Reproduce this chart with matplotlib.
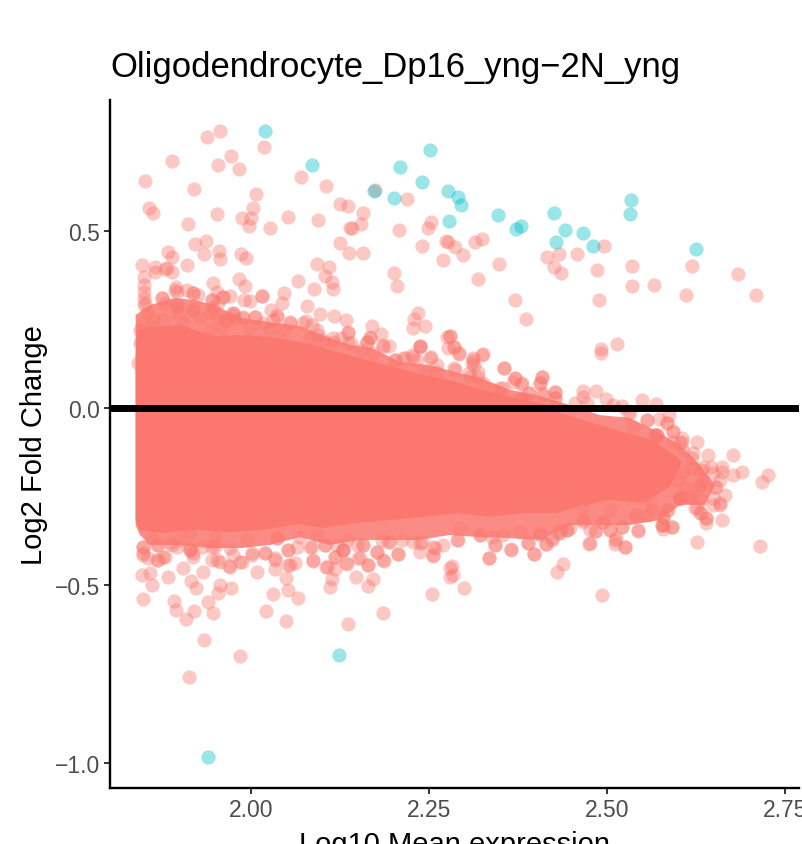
import numpy as np
import matplotlib
matplotlib.use('Agg')
import matplotlib.pyplot as plt

plt.rcParams['font.family'] = ['Liberation Sans', 'DejaVu Sans']

title = 'Oligodendrocyte_Dp16_yng\u22122N_yng'
x_ticks = [2.00, 2.25, 2.50, 2.75]
x_tick_labels = ['2.00', '2.25', '2.50', '2.75']
y_ticks = [-1.0, -0.5, 0.0, 0.5]
y_tick_labels = ['\u22121.0', '\u22120.5', '0.0', '0.5']

# the cloud is solid colour in the picture, single genes can't be read there,
# so it is an outline, points only where they can be seen
cloud_up_x = [1.838, 1.840, 1.854, 1.900, 1.947, 1.994, 2.041, 2.087, 2.121, 2.191, 2.237, 2.284,
              2.331, 2.378, 2.420, 2.434, 2.480, 2.528, 2.565, 2.598, 2.605]
cloud_up_y = [0.150, 0.220, 0.228, 0.234, 0.203, 0.206, 0.197, 0.178, 0.158, 0.121, 0.096, 0.076,
              0.048, 0.025, 0.008, -0.014, -0.042, -0.070, -0.090, -0.138, -0.152]
cloud_low_x = [2.603, 2.588, 2.574, 2.551, 2.504, 2.458, 2.430, 2.382, 2.336, 2.289, 2.242, 2.195,
               2.149, 2.101, 2.065, 2.017, 1.971, 1.924, 1.876, 1.844, 1.838]
cloud_low_y = [-0.166, -0.223, -0.240, -0.268, -0.259, -0.279, -0.296, -0.296, -0.307, -0.296, -0.307, -0.316,
               -0.324, -0.338, -0.327, -0.344, -0.350, -0.344, -0.352, -0.344, -0.316]

# thinner band around the solid part, where the circles still overlap a lot
band_up_x = [1.838, 1.858, 1.893, 1.921, 1.949, 1.985, 2.027, 2.069, 2.111, 2.139, 2.170, 2.209,
             2.251, 2.287, 2.322, 2.364, 2.406, 2.448, 2.490, 2.532, 2.567, 2.603, 2.631, 2.652]
band_up_y = [0.262, 0.290, 0.310, 0.304, 0.290, 0.254, 0.242, 0.231, 0.197, 0.178, 0.169, 0.130,
             0.121, 0.101, 0.085, 0.051, 0.034, 0.008, -0.020, -0.028, -0.062, -0.104, -0.161, -0.217]
band_low_x = [2.638, 2.603, 2.574, 2.532, 2.490, 2.448, 2.406, 2.364, 2.322, 2.279, 2.237, 2.195,
              2.153, 2.111, 2.069, 2.027, 1.985, 1.942, 1.900, 1.858, 1.844, 1.838]
band_low_y = [-0.273, -0.273, -0.316, -0.330, -0.330, -0.330, -0.372, -0.367, -0.364, -0.358, -0.372, -0.372,
              -0.372, -0.386, -0.364, -0.386, -0.395, -0.395, -0.386, -0.386, -0.358, -0.330]

# not significant, above the cloud
top_x = [1.956, 1.938, 2.018, 1.889, 1.972, 1.954, 1.983, 1.851, 2.070, 2.105, 1.920, 2.174,
         2.125, 2.136, 2.219, 2.007, 2.003, 1.857, 1.862, 1.952, 1.987, 2.000, 1.997, 2.052,
         2.094, 2.157, 2.154, 2.142, 2.139, 2.027, 1.912, 2.253, 2.249, 2.208, 2.274, 2.240,
         2.270, 2.125, 2.138, 2.157, 1.937, 1.921, 1.934, 1.955, 1.956, 1.986, 1.993, 1.883,
         1.889, 1.910, 1.847, 1.865, 1.865, 1.879, 1.882, 1.889, 2.093, 2.110, 2.104, 2.114,
         2.115, 2.066, 2.088, 2.201, 2.205, 1.983, 1.992, 1.947, 2.046, 2.044, 2.015, 2.015,
         1.990, 1.999, 1.971, 2.079, 2.028, 2.097, 2.117, 2.133, 2.235, 2.229, 2.228, 2.244,
         2.170, 2.183, 2.194, 2.237, 2.237, 2.136,
         2.324, 2.315, 2.287, 2.298, 2.277, 2.348, 2.319, 2.371, 2.386, 2.416, 2.433, 2.426,
         2.435, 2.458, 2.496, 2.486, 2.489, 2.535, 2.535, 2.566, 2.619, 2.611, 2.684, 2.709,
         2.514, 2.492, 2.492, 2.355, 2.324, 2.292, 2.312, 2.310, 2.279, 2.285, 2.371, 2.409,
         2.406, 2.379, 2.390, 2.427, 2.466, 2.485, 2.499, 2.549, 2.569, 2.522]
top_y = [0.781, 0.764, 0.736, 0.696, 0.710, 0.685, 0.674, 0.640, 0.651, 0.626, 0.617, 0.615,
         0.575, 0.570, 0.589, 0.603, 0.564, 0.564, 0.550, 0.547, 0.536, 0.536, 0.513, 0.539,
         0.530, 0.550, 0.519, 0.507, 0.507, 0.507, 0.519, 0.524, 0.507, 0.502, 0.471, 0.457,
         0.417, 0.465, 0.437, 0.437, 0.471, 0.462, 0.434, 0.443, 0.420, 0.434, 0.423, 0.440,
         0.426, 0.403, 0.403, 0.398, 0.383, 0.392, 0.395, 0.383, 0.406, 0.398, 0.372, 0.355,
         0.335, 0.358, 0.335, 0.381, 0.344, 0.364, 0.344, 0.352, 0.324, 0.296, 0.316, 0.316,
         0.304, 0.302, 0.316, 0.288, 0.276, 0.265, 0.259, 0.248, 0.268, 0.251, 0.226, 0.231,
         0.231, 0.209, 0.175, 0.175, 0.172, 0.211,
         0.476, 0.468, 0.454, 0.431, 0.468, 0.406, 0.364, 0.304, 0.251, 0.426, 0.434, 0.398,
         0.381, 0.434, 0.457, 0.389, 0.304, 0.400, 0.344, 0.347, 0.400, 0.319, 0.378, 0.319,
         0.180, 0.166, 0.155, 0.113, 0.149, 0.152, 0.141, 0.127, 0.203, 0.172, 0.085, 0.087,
         0.070, 0.068, 0.042, 0.045, 0.048, 0.048, 0.025, 0.023, 0.011, 0.006]

# upper edge of the cloud
edge_up_x = [1.850, 1.850, 1.850, 1.850, 1.850, 1.895, 1.896, 1.910, 1.919, 1.945, 1.952, 1.961,
             1.875, 1.896, 1.919, 1.947, 1.975, 1.975, 1.963, 1.989, 2.006, 2.037, 2.055, 2.077,
             2.093, 2.115, 2.136, 2.163, 2.167, 2.185, 2.202, 2.216, 2.228, 2.251, 2.275, 2.277,
             2.287, 2.308, 2.319, 2.350, 2.378, 2.410, 2.427, 2.455, 2.466, 2.472, 2.508,
             1.851, 1.854, 1.848, 1.862, 1.875, 1.879, 1.896, 1.893, 1.919, 1.926, 1.897, 1.919,
             1.928, 1.945, 1.954, 1.961, 1.942, 1.952, 1.975, 1.978, 1.966, 1.989, 2.006, 2.017,
             2.031, 2.037, 2.055, 2.073, 2.086, 2.094, 2.101, 2.083, 2.045, 2.027, 1.999, 1.961,
             1.942, 1.904, 1.876, 1.862, 1.844, 1.844, 1.841,
             2.136, 2.115, 2.126, 2.140, 2.154, 2.163, 2.167, 2.185, 2.171, 2.202, 2.213, 2.226,
             2.233, 2.237, 2.253, 2.262, 2.279, 2.285, 2.292, 2.285, 2.244, 2.262, 2.312, 2.326,
             2.313, 2.319, 2.306, 2.326, 2.355, 2.371, 2.381, 2.368, 2.354, 2.390, 2.381, 2.409,
             2.406, 2.409, 2.427, 2.427, 2.340]
edge_up_y = [0.369, 0.347, 0.327, 0.310, 0.290, 0.341, 0.327, 0.333, 0.324, 0.304, 0.327, 0.313,
             0.310, 0.285, 0.276, 0.285, 0.268, 0.262, 0.248, 0.254, 0.257, 0.257, 0.242, 0.245,
             0.220, 0.186, 0.183, 0.186, 0.200, 0.172, 0.135, 0.141, 0.144, 0.141, 0.200, 0.169,
             0.107, 0.087, 0.087, 0.056, 0.023, 0.037, 0.028, 0.014, 0.031, 0.014, 0.008,
             0.296, 0.268, 0.240, 0.254, 0.310, 0.296, 0.290, 0.333, 0.324, 0.319, 0.268, 0.276,
             0.257, 0.304, 0.296, 0.313, 0.268, 0.257, 0.268, 0.248, 0.248, 0.257, 0.257, 0.240,
             0.248, 0.262, 0.240, 0.240, 0.234, 0.206, 0.192, 0.197, 0.220, 0.220, 0.226, 0.226,
             0.220, 0.240, 0.248, 0.226, 0.220, 0.183, 0.127,
             0.214, 0.197, 0.197, 0.183, 0.163, 0.186, 0.197, 0.177, 0.155, 0.135, 0.141, 0.149,
             0.135, 0.175, 0.144, 0.121, 0.203, 0.172, 0.155, 0.113, 0.101, 0.101, 0.135, 0.152,
             0.121, 0.101, 0.099, 0.070, 0.113, 0.085, 0.070, 0.073, 0.056, 0.042, 0.028, 0.087,
             0.070, 0.042, 0.045, 0.028, 0.051]

# right tip of the cloud
tip_x = [2.726, 2.718, 2.690, 2.677, 2.677, 2.666, 2.659, 2.626, 2.642, 2.662, 2.593, 2.605,
         2.588, 2.573, 2.556, 2.532, 2.537, 2.567, 2.567, 2.584, 2.603, 2.621, 2.635, 2.649,
         2.654, 2.628, 2.603, 2.603, 2.617, 2.633, 2.649, 2.626, 2.633, 2.640, 2.640, 2.586,
         2.579, 2.577, 2.577, 2.558, 2.542, 2.639, 2.662, 2.591, 2.579, 2.544,
         2.619, 2.633, 2.647, 2.662, 2.659, 2.635, 2.652, 2.659, 2.649, 2.631, 2.617, 2.603,
         2.603, 2.624, 2.631, 2.593, 2.605, 2.607, 2.593, 2.584, 2.570, 2.570, 2.556, 2.530,
         2.591, 2.579, 2.579, 2.584, 2.563, 2.539, 2.521, 2.504, 2.511, 2.525, 2.483, 2.476,
         2.494, 2.544, 2.466, 2.448, 2.434, 2.466, 2.504, 2.560, 2.598, 2.610, 2.607, 2.619]
tip_y = [-0.189, -0.209, -0.180, -0.189, -0.133, -0.245, -0.273, -0.096, -0.133, -0.166, -0.065, -0.085,
         -0.020, -0.031, -0.034, -0.014, -0.054, -0.076, -0.076, -0.042, -0.099, -0.127, -0.166, -0.183,
         -0.223, -0.223, -0.254, -0.254, -0.251, -0.259, -0.273, -0.282, -0.296, -0.310, -0.310, -0.288,
         -0.307, -0.330, -0.330, -0.302, -0.302, -0.324, -0.316, -0.335, -0.341, -0.344,
         -0.141, -0.175, -0.166, -0.180, -0.203, -0.203, -0.223, -0.268, -0.254, -0.217, -0.251, -0.254,
         -0.254, -0.282, -0.296, -0.096, -0.096, -0.118, -0.068, -0.042, -0.076, -0.076, -0.034, -0.014,
         -0.335, -0.330, -0.307, -0.288, -0.288, -0.302, -0.335, -0.344, -0.372, -0.392, -0.347, -0.381,
         -0.321, -0.347, -0.316, -0.338, -0.352, -0.282, -0.288, -0.259, -0.203, -0.223, -0.180, -0.169]

# below the cloud
low_x = [1.848, 1.847, 1.858, 1.861, 1.883, 1.892, 1.895, 1.909, 1.920, 1.916, 1.923, 1.940,
         1.947, 1.934, 1.913, 1.985, 1.954, 1.956, 1.972, 1.904, 1.933, 2.008, 2.034, 2.049,
         2.031, 2.021, 2.049, 2.052, 2.066, 2.136, 2.185, 2.111, 2.114, 2.118, 2.105, 2.133,
         2.147, 2.164, 2.171, 2.164, 2.187, 2.206, 2.254, 2.279, 2.279, 2.087, 2.055, 2.062,
         1.969, 1.987,
         2.493, 2.299, 2.284, 2.282, 2.715, 2.626, 2.430, 2.438, 2.334, 2.365, 2.397, 2.343,
         2.389, 2.414, 2.475, 2.511, 2.525,
         2.521, 2.504, 2.513, 2.485, 2.476, 2.466, 2.493, 2.444, 2.431, 2.423, 2.406, 2.378,
         2.354, 2.338, 2.322, 2.289, 2.294,
         1.848, 1.848, 1.869, 1.869, 1.855, 1.879, 1.889, 1.914, 1.914, 1.919, 1.945, 1.952,
         1.975, 2.001, 2.020, 2.037, 2.052, 2.034, 2.083, 2.104, 2.118, 2.129, 2.153, 2.157,
         2.177, 2.195, 2.228, 2.237, 2.256, 2.256,
         1.848, 1.848, 1.868, 1.868, 1.876, 1.861, 1.886, 1.900, 1.896, 1.914, 1.914, 1.919,
         1.931, 1.949, 1.949, 1.945, 1.971, 1.956, 1.971, 1.985, 1.994, 2.001, 2.020, 2.037,
         2.052, 2.034, 2.052, 2.069, 2.086, 2.104, 2.121, 2.129, 2.118, 2.087, 2.107, 2.065,
         2.093, 2.135,
         2.149, 2.157, 2.177, 2.185, 2.206, 2.192, 2.184, 2.212, 2.237, 2.240, 2.256, 2.270,
         2.291, 2.258, 2.322, 2.343, 2.334, 2.365, 2.389, 2.397, 2.414, 2.423, 2.406, 2.436,
         2.444, 2.135, 2.150, 2.129, 2.164]
low_y = [-0.539, -0.471, -0.465, -0.499, -0.476, -0.544, -0.569, -0.595, -0.572, -0.488, -0.507, -0.547,
         -0.578, -0.654, -0.758, -0.699, -0.522, -0.499, -0.507, -0.451, -0.462, -0.462, -0.454, -0.479,
         -0.524, -0.572, -0.600, -0.513, -0.536, -0.609, -0.578, -0.505, -0.482, -0.454, -0.448, -0.437,
         -0.476, -0.502, -0.482, -0.443, -0.431, -0.412, -0.524, -0.476, -0.451, -0.431, -0.443, -0.437,
         -0.445, -0.434,
         -0.527, -0.507, -0.471, -0.445, -0.389, -0.378, -0.462, -0.440, -0.423, -0.400, -0.412, -0.386,
         -0.381, -0.383, -0.383, -0.383, -0.392,
         -0.335, -0.344, -0.367, -0.347, -0.344, -0.321, -0.321, -0.344, -0.352, -0.367, -0.352, -0.350,
         -0.358, -0.364, -0.358, -0.372, -0.338,
         -0.392, -0.414, -0.386, -0.429, -0.423, -0.420, -0.386, -0.400, -0.400, -0.420, -0.392, -0.429,
         -0.414, -0.409, -0.409, -0.367, -0.400, -0.429, -0.392, -0.386, -0.420, -0.400, -0.423, -0.386,
         -0.406, -0.378, -0.378, -0.381, -0.414, -0.392,
         -0.392, -0.409, -0.386, -0.429, -0.420, -0.367, -0.381, -0.372, -0.392, -0.352, -0.395, -0.409,
         -0.392, -0.392, -0.364, -0.429, -0.395, -0.434, -0.448, -0.434, -0.372, -0.414, -0.409, -0.367,
         -0.400, -0.423, -0.443, -0.364, -0.392, -0.386, -0.386, -0.400, -0.420, -0.429, -0.448, -0.392,
         -0.358, -0.372,
         -0.386, -0.386, -0.406, -0.429, -0.412, -0.378, -0.372, -0.372, -0.406, -0.378, -0.417, -0.386,
         -0.372, -0.395, -0.358, -0.386, -0.423, -0.398, -0.381, -0.412, -0.383, -0.372, -0.358, -0.344,
         -0.344, -0.439, -0.423, -0.400, -0.443]

# significant genes
sig_x = [2.020, 2.086, 2.173, 2.201, 2.209, 2.240, 2.251, 2.277, 2.291, 2.295, 2.278, 2.347,
         2.372, 2.379, 2.426, 2.441, 2.428, 2.466, 2.480, 2.534, 2.532, 2.625, 2.124, 1.940]
sig_y = [0.781, 0.685, 0.612, 0.592, 0.679, 0.637, 0.727, 0.612, 0.595, 0.572, 0.527, 0.544,
         0.505, 0.513, 0.550, 0.502, 0.468, 0.493, 0.457, 0.586, 0.547, 0.448, -0.697, -0.984]

red = '#F8766D'
teal = '#00BFC4'

fig = plt.figure(figsize=(8.02, 8.45), dpi=100)
ax = fig.add_axes([110 / 802, 1 - 789 / 845, (799 - 110) / 802, (789 - 101) / 845])

# points first, the band on top keeps them from showing up as dark dots
for xs, ys in [(top_x, top_y), (edge_up_x, edge_up_y), (tip_x, tip_y), (low_x, low_y)]:
    ax.scatter(xs, ys, s=105, color=red, alpha=0.4, linewidths=0, zorder=1)
ax.fill(band_up_x + band_low_x, band_up_y + band_low_y, color='#FB7870', alpha=0.85, linewidth=0, zorder=2)
ax.fill(cloud_up_x + cloud_low_x, cloud_up_y + cloud_low_y, color='#FB7870', linewidth=0, zorder=3)
ax.scatter(sig_x, sig_y, s=105, color=teal, alpha=0.4, linewidths=0, zorder=4)
ax.axhline(0, color='black', linewidth=5, zorder=5)

ax.set_xlim(1.802, 2.770)
ax.set_ylim(-1.071, 0.868)
ax.set_xticks(x_ticks)
ax.set_xticklabels(x_tick_labels)
ax.set_yticks(y_ticks)
ax.set_yticklabels(y_tick_labels)
ax.tick_params(axis='both', length=4, width=1.4, color='#333333', labelcolor='#4D4D4D',
               labelsize=16.5, pad=3)

for side in ['top', 'right']:
    ax.spines[side].set_visible(False)
for side in ['left', 'bottom']:
    ax.spines[side].set_linewidth(1.7)

ax.set_title(title, fontsize=24.9, loc='left', pad=17)
ax.set_ylabel('Log2 Fold Change', fontsize=21, labelpad=5)
ax.set_xlabel('Log10 Mean expression', fontsize=21, labelpad=7)

fig.savefig('out.png', dpi=100)
